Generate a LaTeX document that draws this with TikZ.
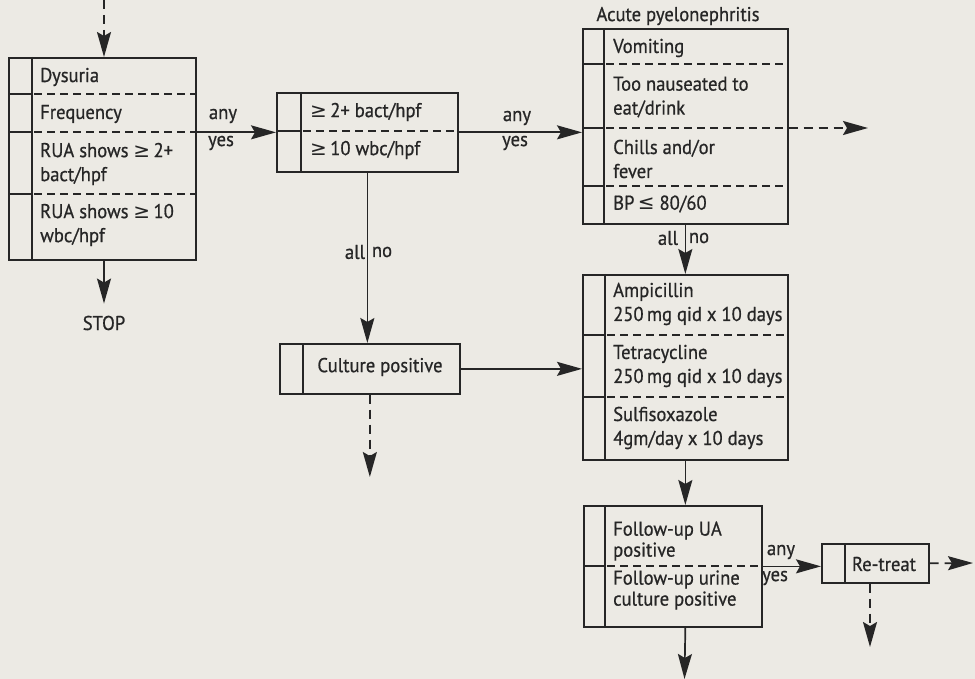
\documentclass[tikz,border=0pt]{standalone}
\usepackage{fontspec}
\setmainfont{PT Sans}[FakeStretch=0.93,FakeBold=0.7]
\newfontfamily\symf{DejaVu Sans}
\usetikzlibrary{arrows.meta,calc}
\definecolor{paper}{RGB}{236,234,228}
\definecolor{ink}{RGB}{38,38,38}
\newcommand{\gte}{{\symf\char"2265}}
\newcommand{\lte}{{\symf\char"2264}}
\begin{document}
\begin{tikzpicture}[x=1pt,y=-1pt,
 box/.style={draw=ink,line width=1.7pt,inner sep=0pt,anchor=north west},
 sep/.style={draw=ink,line width=1.6pt},
 dsep/.style={draw=ink,line width=1.4pt,dash pattern=on 8pt off 5pt},
 arr/.style={draw=ink,line width=1.7pt,-{Stealth[length=25pt,width=14pt,inset=4pt]}},
 darr/.style={arr,dash pattern=on 9pt off 6pt},
 txt/.style={anchor=west,align=left,inner sep=0pt,text=ink,font=\fontsize{20}{24}\selectfont},
 txtb/.style={txt,font=\fontsize{20}{21}\selectfont},
 lbl/.style={inner sep=0pt,text=ink,font=\fontsize{20}{24}\selectfont}]
\fill[paper] (0,0) rectangle (975,679);
\useasboundingbox (0,0) rectangle (975,679);

% ---------- box 1 ----------
\node[box,minimum width=187pt,minimum height=202pt] (b1) at (8,57) {};
\draw[sep] (32,57) -- (32,259);
\draw[sep] (8,94) -- (32,94);
\draw[sep] (8,132) -- (32,132);
\draw[sep] (8,194) -- (32,194);
\draw[dsep] (34,94) -- (195,94);
\draw[dsep] (34,132) -- (195,132);
\draw[dsep] (34,194) -- (195,194);
\node[txt] (t1a) at (40,77) {Dysuria};
\node[txt] (t1b) at (40,114) {Frequency};
\node[txt] (t1c) at (40,164) {RUA shows \gte\,2+\\bact/hpf};
\node[txt] (t1d) at (40,225) {RUA shows \gte\,10\\wbc/hpf};
\node[lbl] (stop) at (104,323) {STOP};

% ---------- box 2 ----------
\node[box,minimum width=181pt,minimum height=79pt] (b2) at (276,92) {};
\draw[sep] (301,92) -- (301,171);
\draw[sep] (276,131) -- (301,131);
\draw[dsep] (303,131) -- (457,131);
\node[txt] (t2a) at (310,112) {\gte\,2+ bact/hpf};
\node[txt] (t2b) at (310,150) {\gte\,10 wbc/hpf};

% ---------- culture positive ----------
\node[box,minimum width=180pt,minimum height=50pt] (cp) at (279,343) {};
\draw[sep] (303,343) -- (303,393);
\node[lbl] (tcp) at (380,367) {Culture positive};

% ---------- box 3 ----------
\node[lbl] (title) at (678,16) {Acute pyelonephritis};
\node[box,minimum width=205pt,minimum height=195pt] (b3) at (582,28) {};
\draw[sep] (604,28) -- (604,223);
\draw[sep] (582,64) -- (604,64);
\draw[sep] (582,128) -- (604,128);
\draw[sep] (582,186) -- (604,186);
\draw[dsep] (606,64) -- (787,64);
\draw[dsep] (606,128) -- (787,128);
\draw[dsep] (606,186) -- (787,186);
\node[txt] (t3a) at (613,48) {Vomiting};
\node[txt] (t3b) at (613,97) {Too nauseated to\\eat/drink};
\node[txt] (t3c) at (613,159) {Chills and/or\\fever};
\node[txt] (t3d) at (613,204) {BP\,\lte\ 80/60};

% ---------- box 4 ----------
\node[box,minimum width=205pt,minimum height=185pt] (b4) at (582,274) {};
\draw[sep] (605,274) -- (605,459);
\draw[sep] (582,335) -- (605,335);
\draw[sep] (582,397) -- (605,397);
\draw[dsep] (607,335) -- (787,335);
\draw[dsep] (607,397) -- (787,397);
\node[txt] (t4a) at (613,304) {Ampicillin\\250\,mg qid x 10 days};
\node[txt] (t4b) at (613,366) {Tetracycline\\250\,mg qid x 10 days};
\node[txt] (t4c) at (613,428) {Sulfisoxazole\\4gm/day x 10 days};

% ---------- box 5 ----------
\node[box,minimum width=178pt,minimum height=121pt] (b5) at (583,505) {};
\draw[sep] (605,505) -- (605,626);
\draw[sep] (583,566) -- (605,566);
\draw[dsep] (607,566) -- (761,566);
\node[txtb] (t5a) at (613,541) {Follow-up UA\\positive};
\node[txtb] (t5b) at (613,590) {Follow-up urine\\culture positive};

% ---------- re-treat ----------
\node[box,minimum width=107pt,minimum height=39pt] (rt) at (821,543) {};
\draw[sep] (845,543) -- (845,582);
\node[lbl] (trt) at (884,564) {Re-treat};

% ---------- connectors ----------
\coordinate (in1) at (104,0);
\draw[darr] (in1) -- (in1 |- b1.north);
\draw[arr,shorten >=12pt] (b1.south -| in1) -- (stop.north);

\draw[arr] (b1.east |- b2.west) -- (b2.west);
\node[lbl] (any1) at (223,116) {any};
\node[lbl] (yes1) at (221,143) {yes};

\draw[arr] (b2.east) -- (b2.east -| b3.west);
\node[lbl] (any2) at (517,118) {any};
\node[lbl] (yes2) at (515,143) {yes};

\draw[arr] (b2.south) -- (b2.south |- cp.north);
\node[lbl] (all1) at (355,252) {all};
\node[lbl] (no1) at (382,252) {no};

\draw[arr] (cp.east) -- (cp.east -| b4.west);
\coordinate (cpout) at (369,477);
\draw[darr] (cp.south) -- (cp.south |- cpout);

\coordinate (b3out) at (868,128);
\draw[darr] (b3.east |- b3out) -- (b3out);

\draw[arr] (b3.south) -- (b3.south |- b4.north);
\node[lbl] (all2) at (668,238) {all};
\node[lbl] (no2) at (699,238) {no};

\draw[arr] (b4.south) -- (b4.south |- b5.north);
\coordinate (b5out) at (684.5,679);
\draw[arr] (b5.south -| b4.south) -- (b5out);

\draw[arr] (b5.east) -- (b5.east -| rt.west);
\node[lbl] (any3) at (781,552) {any};
\node[lbl] (yes3) at (775,578) {yes};

\coordinate (rtout) at (973,563);
\draw[darr] (rt.east) -- (rtout);
\coordinate (rtdown) at (870,647);
\draw[darr] (rt.south -| rtdown) -- (rtdown);
\end{tikzpicture}
\end{document}
